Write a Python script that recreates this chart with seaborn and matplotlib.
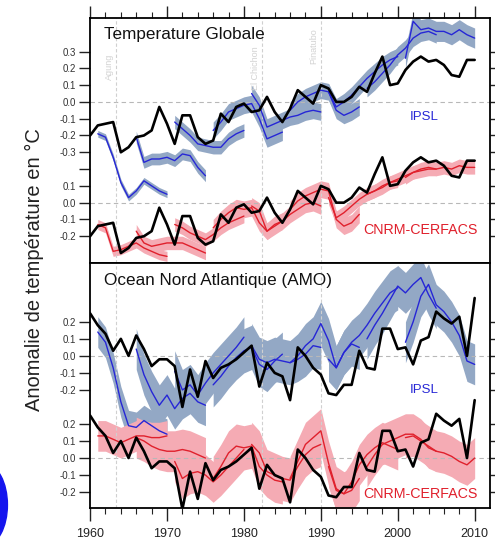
import numpy as np
import pandas as pd
import seaborn as sns
import matplotlib
matplotlib.use("Agg")
import matplotlib.pyplot as plt
from matplotlib.patches import Ellipse

# ---------------- data ----------------
years = list(range(1960, 2011))

obs_global = [-0.20, -0.14, -0.13, -0.12, -0.30, -0.27, -0.21, -0.20, -0.17, -0.03,
              -0.13, -0.25, -0.08, -0.08, -0.21, -0.25, -0.23, -0.07, -0.12, -0.03,
              -0.01, -0.06, -0.05, 0.03, -0.06, -0.12, -0.04, 0.07, 0.03, -0.01,
              0.10, 0.08, 0.00, 0.00, 0.03, 0.09, 0.06, 0.17, 0.27, 0.10,
              0.11, 0.19, 0.24, 0.27, 0.24, 0.25, 0.22, 0.16, 0.15, 0.25, 0.25]

obs_amo = [0.25, 0.18, 0.13, 0.03, 0.10, 0.00, 0.12, 0.04, -0.06, -0.02,
           -0.02, -0.06, -0.30, -0.08, -0.24, -0.03, -0.13, -0.07, -0.05, -0.02,
           0.02, 0.06, -0.18, -0.04, -0.10, -0.12, -0.26, 0.05, 0.00, -0.07,
           -0.11, -0.22, -0.23, -0.17, -0.17, 0.03, -0.07, -0.08, 0.16, 0.16,
           0.04, 0.05, -0.05, 0.09, 0.11, 0.26, 0.22, 0.19, 0.23, 0.00, 0.34]

starts = [1961, 1966, 1971, 1976, 1981, 1986, 1991, 1996, 2001]

ipsl_global = [
    [-0.19, -0.21, -0.33, -0.48, -0.57, -0.53, -0.47, -0.50, -0.53, -0.55],
    [-0.21, -0.36, -0.34, -0.34, -0.33, -0.35, -0.31, -0.32, -0.39, -0.44],
    [-0.12, -0.16, -0.20, -0.25, -0.26, -0.27, -0.27, -0.22, -0.19, -0.17],
    [-0.17, -0.12, -0.06, -0.04, -0.02, -0.01, -0.10, -0.22, -0.20, -0.18],
    [0.05, -0.02, -0.15, -0.13, -0.11, -0.09, -0.08, -0.06, -0.05, -0.06],
    [-0.05, 0.00, 0.03, 0.05, 0.07, 0.06, -0.05, -0.08, -0.06, -0.03],
    [0.06, -0.03, 0.00, 0.04, 0.09, 0.14, 0.18, 0.22, 0.25, 0.27],
    [0.08, 0.12, 0.17, 0.22, 0.28, 0.32, 0.38, 0.41, 0.42, 0.40],
    [0.26, 0.48, 0.43, 0.44, 0.42, 0.42, 0.40, 0.43, 0.40, 0.38],
]
ipsl_global_spread = [0.02, 0.035, 0.04, 0.05, 0.05, 0.05, 0.05, 0.05, 0.06]

cnrm_global = [
    [-0.13, -0.15, -0.29, -0.28, -0.26, -0.24, -0.27, -0.29, -0.31, -0.32],
    [-0.17, -0.24, -0.26, -0.25, -0.24, -0.24, -0.24, -0.26, -0.28, -0.30],
    [-0.13, -0.15, -0.18, -0.20, -0.22, -0.19, -0.15, -0.12, -0.10, -0.08],
    [-0.15, -0.10, -0.06, -0.03, -0.04, -0.03, -0.12, -0.17, -0.13, -0.11],
    [-0.02, -0.05, -0.17, -0.14, -0.11, -0.07, -0.04, -0.01, 0.00, -0.02],
    [-0.04, 0.01, 0.04, 0.06, 0.08, 0.07, -0.10, -0.14, -0.12, -0.07],
    [0.03, -0.09, -0.06, -0.02, 0.02, 0.05, 0.07, 0.09, 0.12, 0.13],
    [0.05, 0.07, 0.10, 0.12, 0.14, 0.16, 0.18, 0.19, 0.20, 0.20],
    [0.15, 0.18, 0.20, 0.21, 0.20, 0.21, 0.20, 0.22, 0.21, 0.21],
]
cnrm_global_spread = [0.03, 0.04, 0.04, 0.05, 0.05, 0.05, 0.04, 0.04, 0.04]

ipsl_amo = [
    [0.14, 0.08, -0.07, -0.27, -0.41, -0.42, -0.38, -0.41, -0.44, -0.46],
    [0.04, -0.11, -0.21, -0.29, -0.23, -0.31, -0.25, -0.22, -0.27, -0.29],
    [-0.09, -0.20, -0.17, -0.23, -0.16, -0.10, -0.05, 0.00, 0.05, 0.11],
    [-0.17, -0.12, -0.06, -0.01, 0.03, 0.05, -0.05, -0.08, -0.03, 0.01],
    [0.06, -0.02, -0.04, -0.02, -0.03, -0.04, -0.02, 0.01, 0.06, 0.05],
    [-0.04, 0.00, 0.06, 0.10, 0.19, 0.09, -0.07, 0.02, 0.07, 0.05],
    [-0.02, -0.07, 0.02, 0.08, 0.12, 0.18, 0.25, 0.31, 0.37, 0.40],
    [0.10, 0.18, 0.25, 0.33, 0.41, 0.37, 0.42, 0.46, 0.36, 0.28],
    [0.08, 0.20, 0.35, 0.42, 0.30, 0.26, 0.20, 0.12, -0.03, -0.05],
]
ipsl_amo_spread = [0.09, 0.12, 0.12, 0.13, 0.13, 0.13, 0.13, 0.12, 0.12]

cnrm_amo = [
    [0.13, 0.13, 0.11, 0.09, 0.11, 0.13, 0.13, 0.12, 0.12, 0.13],
    [0.12, 0.10, 0.07, 0.05, 0.04, 0.04, 0.05, 0.04, 0.02, 0.00],
    [-0.02, -0.12, -0.09, -0.08, -0.10, -0.14, -0.10, -0.05, 0.00, 0.05],
    [-0.12, -0.05, 0.03, 0.07, 0.06, 0.07, -0.05, -0.10, -0.13, -0.14],
    [0.08, 0.03, -0.08, -0.10, -0.12, -0.13, -0.05, 0.02, 0.06, 0.08],
    [-0.12, -0.02, 0.08, 0.12, 0.16, -0.03, -0.18, -0.21, -0.19, -0.12],
    [-0.05, -0.19, -0.21, -0.14, -0.04, 0.02, 0.06, 0.09, 0.07, 0.05],
    [-0.05, 0.02, 0.08, 0.10, 0.12, 0.14, 0.14, 0.11, 0.06, 0.04],
    [0.12, 0.13, 0.10, 0.07, 0.04, 0.03, 0.01, -0.02, -0.04, 0.00],
]
cnrm_amo_spread = [0.09, 0.12, 0.12, 0.13, 0.13, 0.13, 0.12, 0.12, 0.12]

volcano_years = [1963.4, 1982.4, 1990.0]
volcano_names = ["Agung", "El Chichon", "Pinatubo"]
volcano_label_tops = [0.29, 0.33, 0.44]

panel_titles = ["Temperature Globale", "Ocean Nord Atlantique (AMO)"]
model_names = ["IPSL", "CNRM-CERFACS"]
ylabel_text = "Anomalie de température en °C"
xtick_years = [1960, 1970, 1980, 1990, 2000, 2010]

OFFSET = -0.6  # vertical shift of the lower (CNRM) block

# ---------------- style ----------------
sns.set_theme(style="white")
plt.rcParams["font.family"] = ["Liberation Sans", "DejaVu Sans"]

BLUE = "#2626d6"
BLUE_BAND = "#93a8c5"
RED = "#e0202c"
RED_BAND = "#f5abb4"


def seg_frame(segs, offset):
    rows = []
    for s, vals in zip(starts, segs):
        for i, v in enumerate(vals):
            rows.append((s + i, v + offset, s))
    return pd.DataFrame(rows, columns=["year", "value", "start"])


def draw_model(ax, segs, spreads, offset, line_c, band_c):
    for s, vals, sp in zip(starts, segs, spreads):
        xs = np.arange(s, s + len(vals))
        v = np.array(vals) + offset
        ax.fill_between(xs, v - sp, v + sp, color=band_c, lw=0, zorder=1)
    df = seg_frame(segs, offset)
    sns.lineplot(data=df, x="year", y="value", units="start", estimator=None,
                 color=line_c, lw=1.0, ax=ax, legend=False, zorder=4)


def draw_obs(ax, obs, offset):
    df = pd.DataFrame({"year": years, "value": np.array(obs) + offset})
    sns.lineplot(data=df, x="year", y="value", color="black", lw=1.9, ax=ax,
                 legend=False, zorder=5)


fig = plt.figure(figsize=(4.95, 5.44), dpi=100)
ax1 = fig.add_axes([0.182, 0.517, 0.808, 0.450])
ax2 = fig.add_axes([0.182, 0.066, 0.808, 0.451])

panels = [
    (ax1, obs_global, ipsl_global, ipsl_global_spread, cnrm_global, cnrm_global_spread,
     (-0.958, 0.5)),
    (ax2, obs_amo, ipsl_amo, ipsl_amo_spread, cnrm_amo, cnrm_amo_spread,
     (-0.894, 0.547)),
]

for k, (ax, obs, isegs, isp, csegs, csp, ylim) in enumerate(panels):
    draw_model(ax, isegs, isp, 0.0, BLUE, BLUE_BAND)
    draw_model(ax, csegs, csp, OFFSET, RED, RED_BAND)
    draw_obs(ax, obs, 0.0)
    draw_obs(ax, obs, OFFSET)

    for yz in (0.0, OFFSET):
        ax.axhline(yz, color="#b8b8b8", lw=0.8, ls=(0, (4, 3)), zorder=2)
    for vy in volcano_years:
        ax.axvline(vy, color="#d0d0d0", lw=0.8, ls=(0, (3, 2)), zorder=2)

    ax.set_xlim(1960, 2012)
    ax.set_ylim(*ylim)
    ax.set_xlabel("")
    ax.set_ylabel("")

    # y ticks
    if k == 0:
        yt = [0.3, 0.2, 0.1, 0.0, -0.1, -0.2, -0.3, -0.4, -0.5, -0.6, -0.7, -0.8]
        yl = ["0.3", "0.2", "0.1", "0.0", "-0.1", "-0.2", "-0.3", "",
              "0.1", "0.0", "-0.1", "-0.2"]
    else:
        yt = [0.2, 0.1, 0.0, -0.1, -0.2, -0.4, -0.5, -0.6, -0.7, -0.8]
        yl = ["0.2", "0.1", "0.0", "-0.1", "-0.2", "0.2", "0.1", "0.0", "-0.1", "-0.2"]
    ax.set_yticks(yt)
    ax.set_yticklabels(yl)
    ax.tick_params(axis="y", which="major", left=True, right=True, direction="out",
                   length=8, width=1.0, labelsize=7, labelcolor="#333333",
                   color="#222222", pad=2)
    for t in ax.yaxis.get_major_ticks():
        t.tick2line.set_markersize(4)

    # x ticks
    ax.set_xticks(xtick_years)
    ax.set_xticks(np.arange(1960, 2012, 2), minor=True)
    if k == 0:
        ax.tick_params(axis="x", which="both", bottom=False, top=True,
                       labelbottom=False, labeltop=False, direction="out",
                       color="#222222")
        ax.tick_params(axis="x", which="major", length=9, width=1.0)
        ax.tick_params(axis="x", which="minor", length=4, width=0.8)
    else:
        ax.tick_params(axis="x", which="both", bottom=True, top=False,
                       labelbottom=True, direction="out", color="#222222")
        ax.tick_params(axis="x", which="major", length=9, width=1.0,
                       labelsize=9, labelcolor="#222222", pad=5)
        ax.tick_params(axis="x", which="minor", length=4, width=0.8)
        ax.set_xticklabels([str(y) for y in xtick_years])

    for sp in ax.spines.values():
        sp.set_color("black")
        sp.set_linewidth(1.3)
        sp.set_visible(True)

    ax.text(0.035, 0.965 if k == 0 else 0.96, panel_titles[k], transform=ax.transAxes,
            ha="left", va="top", fontsize=12.3, color="#111111", zorder=6)

# model labels
ax1.text(2003.4, -0.09, model_names[0], color=BLUE, fontsize=9.5, ha="center",
         va="center", zorder=6)
ax1.text(2003.0, -0.76, model_names[1], color=RED, fontsize=10.3, ha="center",
         va="center", zorder=6)
ax2.text(2003.4, -0.20, model_names[0], color=BLUE, fontsize=9.5, ha="center",
         va="center", zorder=6)
ax2.text(2003.0, -0.81, model_names[1], color=RED, fontsize=10.3, ha="center",
         va="center", zorder=6)

# volcano names
for vy, vn, vt in zip(volcano_years, volcano_names, volcano_label_tops):
    ax1.text(vy - 0.3, vt, vn, rotation=90, color="#d2d2d2", fontsize=6.5,
             ha="right", va="top", zorder=2)

fig.text(0.07, 0.505, ylabel_text, rotation=90, ha="center", va="center",
         fontsize=14.5, color="#222222")

# logo fragment at the lower-left corner
fig.add_artist(Ellipse((-0.03, 0.072), width=0.09, height=0.15,
                       transform=fig.transFigure, color="#1515ee", zorder=0))

fig.savefig("out.png", dpi=100, facecolor="white")
